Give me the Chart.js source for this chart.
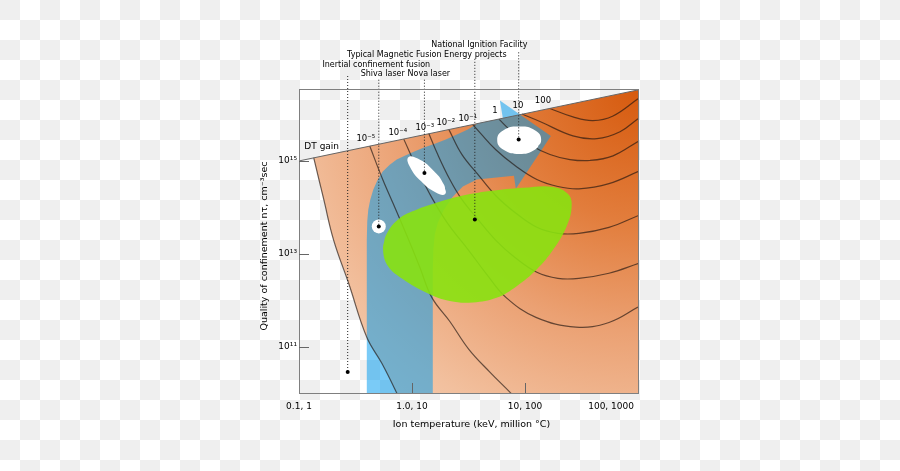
<!DOCTYPE html>
<html>
<head>
<meta charset="utf-8">
<title>Lawson criterion - DT gain</title>
<script src="https://cdn.jsdelivr.net/npm/chart.js@4.4.0/dist/chart.umd.min.js"></script>
<style>
    html, body { margin: 0; padding: 0; }
    body {
        width: 900px;
        height: 471px;
        background: repeating-conic-gradient(#ffffff 0 25%, #efefef 0 50%) 0 0 / 40px 40px;
    }
    canvas { display: block; }
</style>
</head>
<body>
<canvas id="lawson" width="900" height="471"></canvas>
<script>
    // x = log10(ion temperature, keV), y = log10(n tau)
    const xTicks = [-1, 0, 1, 2];
    const xTickLabels = ['0.1, 1', '1.0, 10', '10, 100', '100, 1000'];
    const yTicks = [11, 13, 15];
    const yTickLabels = ['10¹¹', '10¹³', '10¹⁵'];
    const xTitle = 'Ion temperature (keV, million °C)';
    const yTitle = 'Quality of confinement nτ, cm⁻³sec';

    // DT gain boundary and constant gain contours
    const dtGainLine = [[-1, 15.0], [2, 16.53]];
    const gainZero = [[-0.870, 15.07], [-0.781, 14.17], [-0.693, 13.29], [-0.560, 12.36], [-0.400, 11.20], [-0.267, 10.64], [-0.135, 10.0], [-0.02, 9.4]];
    const gain1e5 = [[-0.374, 15.32], [-0.259, 14.60], [-0.143, 13.95], [-0.028, 13.29], [0.069, 12.71], [0.175, 12.06], [0.335, 11.54], [0.503, 10.94], [0.689, 10.45], [0.866, 10.02], [0.955, 9.8]];
    const gain1e4 = [[-0.073, 15.47], [0.051, 14.81], [0.175, 14.21], [0.317, 13.65], [0.503, 13.07], [0.663, 12.55], [0.831, 12.06], [1.097, 11.63], [1.451, 11.42], [1.743, 11.52], [2.0, 11.85]];
    const gain1e3 = [[0.149, 15.59], [0.220, 15.18], [0.335, 14.60], [0.441, 14.17], [0.583, 13.74], [0.742, 13.29], [0.911, 12.92], [1.105, 12.60], [1.291, 12.47], [1.477, 12.47], [1.743, 12.58], [2.0, 12.79]];
    const gain1e2 = [[0.326, 15.68], [0.441, 15.14], [0.583, 14.71], [0.742, 14.25], [0.911, 13.89], [1.105, 13.57], [1.291, 13.44], [1.477, 13.44], [1.743, 13.57], [2.0, 13.82]];
    const gain1e1 = [[0.539, 15.78], [0.601, 15.61], [0.742, 15.24], [0.911, 14.90], [1.105, 14.60], [1.291, 14.45], [1.477, 14.40], [1.743, 14.51], [2.0, 14.77]];
    const gain1 = [[0.769, 15.90], [0.884, 15.63], [1.043, 15.35], [1.221, 15.14], [1.398, 15.03], [1.575, 15.01], [1.779, 15.11], [2.0, 15.42]];
    const gain10 = [[0.973, 16.01], [1.132, 15.85], [1.424, 15.54], [1.637, 15.48], [1.841, 15.63], [2.0, 15.91]];
    const gain100 = [[1.221, 16.13], [1.424, 15.95], [1.601, 15.87], [1.779, 15.97], [2.0, 16.34]];

    const gainLabels = ['10⁻⁵', '10⁻⁴', '10⁻³', '10⁻²', '10⁻¹', '1', '10', '100'];
    const gainLabelX = [-0.409, -0.126, 0.113, 0.299, 0.494, 0.733, 0.937, 1.159];
    const gainLabelY = [15.48, 15.61, 15.72, 15.82, 15.91, 16.08, 16.19, 16.30];
    const dtLabelPos = [-0.799, 15.31];

    // regions
    const burnRegion = [...gainZero, [2.3, 9.4], [2.3, 16.68]];
    const icfRegion = [[-0.400, 9.8], [-0.400, 11.37], [-0.400, 12.66], [-0.400, 13.31], [-0.396, 13.70], [-0.387, 13.95], [-0.369, 14.17], [-0.343, 14.38], [-0.307, 14.58], [-0.259, 14.77], [-0.197, 14.92], [-0.135, 15.03], [-0.064, 15.11], [0.016, 15.20], [0.105, 15.29], [0.202, 15.37], [0.299, 15.46], [0.397, 15.57], [0.494, 15.68], [0.583, 15.81], [0.804, 15.92], [0.778, 16.30], [0.955, 16.00], [1.229, 15.54], [0.919, 14.40], [0.902, 14.68], [0.574, 14.60], [0.450, 14.45], [0.361, 14.23], [0.282, 13.95], [0.229, 13.67], [0.202, 13.42], [0.189, 13.09], [0.184, 12.66], [0.184, 12.02], [0.184, 9.8]];
    const mfeRegion = [[-0.256, 13.09], [-0.226, 13.42], [-0.108, 13.77], [0.040, 13.95], [0.217, 14.10], [0.423, 14.24], [0.689, 14.35], [0.984, 14.42], [1.250, 14.44], [1.383, 14.28], [1.413, 14.02], [1.368, 13.59], [1.250, 13.09], [1.103, 12.66], [0.926, 12.30], [0.748, 12.05], [0.541, 11.95], [0.335, 11.98], [0.128, 12.16], [-0.079, 12.45], [-0.212, 12.73], [-0.256, 13.09], [-0.226, 13.42]];

    // experiments
    const novaShot = [[0.294, 14.29], [0.282, 14.49], [0.182, 14.81], [0.051, 15.05], [-0.032, 15.08], [-0.020, 14.88], [0.081, 14.56], [0.211, 14.32], [0.294, 14.29], [0.282, 14.49]];
    const nifShot = [[1.143, 15.45], [1.087, 15.24], [0.949, 15.15], [0.810, 15.24], [0.754, 15.45], [0.810, 15.66], [0.949, 15.74], [1.087, 15.66], [1.143, 15.45], [1.087, 15.24]];
    const shivaShot = [[-0.294, 13.59]];

    const projectNames = ['Inertial confinement fusion', 'Shiva laser', 'Nova laser', 'Typical Magnetic Fusion Energy projects', 'National Ignition Facility'];
    const markerX = [-0.569, -0.294, 0.11, 0.556, 0.944];
    const markerY = [10.45, 13.59, 14.74, 13.74, 15.46];
    const leaderTop = [16.83, 16.75, 16.75, 17.20, 17.34];
    const projectLabelX = [-0.316, -0.259, 0.149, 0.131, 0.596];
    const projectLabelY = [17.07, 16.87, 16.87, 17.29, 17.50];

    const FONT = '"DejaVu Sans", sans-serif';

    function burnFill(context) {
        const area = context.chart.chartArea;
        if (!area) return '#eaa577';
        const g = context.chart.ctx.createRadialGradient(area.right, area.top, 0, area.right, area.top, 440);
        g.addColorStop(0, '#d65a0e');
        g.addColorStop(0.3, '#e27d3c');
        g.addColorStop(0.55, '#eba173');
        g.addColorStop(0.8, '#f2c09e');
        g.addColorStop(1, '#f6d2b9');
        return g;
    }

    const datasets = [];

    datasets.push({
        data: burnRegion, showLine: true, fill: 'shape', tension: 0.4,
        backgroundColor: burnFill, borderColor: 'transparent', borderWidth: 0,
        pointRadius: 0, order: 9
    });
    datasets.push({
        data: icfRegion, showLine: true, fill: 'shape', tension: 0,
        backgroundColor: 'rgba(0,155,240,0.52)', borderColor: 'transparent', borderWidth: 0,
        pointRadius: 0, order: 8
    });

    [gainZero, gain1e5, gain1e4, gain1e3, gain1e2, gain1e1, gain1, gain10, gain100].forEach(curve => {
        datasets.push({
            data: curve, showLine: true, fill: false, tension: 0.4,
            borderColor: 'rgba(30,20,15,0.65)', borderWidth: 1.2,
            pointRadius: 0, order: 7
        });
    });

    datasets.push({
        data: dtGainLine, showLine: true, fill: false, tension: 0,
        borderColor: '#666', borderWidth: 1, pointRadius: 0, order: 6
    });

    datasets.push({
        data: mfeRegion, showLine: true, fill: 'shape', tension: 0.4,
        backgroundColor: 'rgba(136,226,16,0.9)', borderColor: 'transparent', borderWidth: 0,
        pointRadius: 0, order: 5
    });

    [novaShot, nifShot].forEach(shape => {
        datasets.push({
            data: shape, showLine: true, fill: 'shape', tension: 0.5,
            backgroundColor: '#ffffff', borderColor: 'transparent', borderWidth: 0,
            pointRadius: 0, order: 4
        });
    });
    datasets.push({
        data: shivaShot, showLine: false, pointRadius: 7,
        pointBackgroundColor: '#ffffff', pointBorderWidth: 0, order: 4
    });

    markerX.forEach((mx, i) => {
        datasets.push({
            data: [[mx, leaderTop[i]], [mx, markerY[i]]], showLine: true, fill: false,
            borderColor: '#222', borderWidth: 1, borderDash: [1, 2],
            pointRadius: 0, clip: false, order: 3
        });
    });
    datasets.push({
        data: markerX.map((mx, i) => [mx, markerY[i]]), showLine: false,
        pointRadius: 2, pointBackgroundColor: '#000', pointBorderWidth: 0,
        clip: false, order: 2
    });

    // frame, inward ticks and all the text
    const decor = {
        id: 'decor',
        afterDraw(chart) {
            const ctx = chart.ctx;
            const a = chart.chartArea;
            const x = chart.scales.x;
            const y = chart.scales.y;
            ctx.save();

            ctx.strokeStyle = '#7f7f7f';
            ctx.lineWidth = 1;
            ctx.strokeRect(a.left + 0.5, a.top + 0.5, a.right - a.left, a.bottom - a.top);

            ctx.strokeStyle = '#666';
            ctx.beginPath();
            yTicks.forEach(v => {
                const py = Math.round(y.getPixelForValue(v)) + 0.5;
                ctx.moveTo(a.left, py);
                ctx.lineTo(a.left + 10, py);
            });
            xTicks.slice(1, -1).forEach(v => {
                const px = Math.round(x.getPixelForValue(v)) + 0.5;
                ctx.moveTo(px, a.bottom);
                ctx.lineTo(px, a.bottom - 10);
            });
            ctx.stroke();

            ctx.fillStyle = '#000';
            ctx.textBaseline = 'middle';

            ctx.font = '9px ' + FONT;
            xTickLabels.forEach((t, i) => {
                const last = i === xTickLabels.length - 1;
                ctx.textAlign = last ? 'right' : 'center';
                ctx.fillText(t, x.getPixelForValue(xTicks[i]) - (last ? 4 : 0), a.bottom + 14);
            });
            ctx.textAlign = 'right';
            yTickLabels.forEach((t, i) => ctx.fillText(t, a.left - 2, y.getPixelForValue(yTicks[i])));

            ctx.textAlign = 'center';
            ctx.font = '9.5px ' + FONT;
            ctx.fillText(xTitle, (a.left + a.right) / 2 + 3, a.bottom + 32);
            ctx.save();
            ctx.translate(a.left - 34, (a.top + a.bottom) / 2 + 5);
            ctx.rotate(-Math.PI / 2);
            ctx.fillText(yTitle, 0, 0);
            ctx.restore();

            ctx.font = '9px ' + FONT;
            ctx.fillText('DT gain', x.getPixelForValue(dtLabelPos[0]), y.getPixelForValue(dtLabelPos[1]));

            ctx.font = '8.5px ' + FONT;
            gainLabels.forEach((t, i) => {
                ctx.fillText(t, x.getPixelForValue(gainLabelX[i]), y.getPixelForValue(gainLabelY[i]));
            });

            ctx.font = '8px ' + FONT;
            projectNames.forEach((t, i) => {
                ctx.fillText(t, x.getPixelForValue(projectLabelX[i]), y.getPixelForValue(projectLabelY[i]));
            });

            ctx.restore();
        }
    };

    new Chart(document.getElementById('lawson'), {
        type: 'scatter',
        data: { datasets: datasets },
        options: {
            responsive: false,
            animation: false,
            devicePixelRatio: 1,
            events: [],
            layout: { padding: { left: 299, top: 89, right: 262, bottom: 78 } },
            scales: {
                x: { type: 'linear', min: -1, max: 2, display: false },
                y: { type: 'linear', min: 10, max: 16.55, display: false }
            },
            elements: { line: { capBezierPoints: false } },
            plugins: {
                legend: { display: false },
                tooltip: { enabled: false }
            }
        },
        plugins: [decor]
    });
</script>
</body>
</html>
